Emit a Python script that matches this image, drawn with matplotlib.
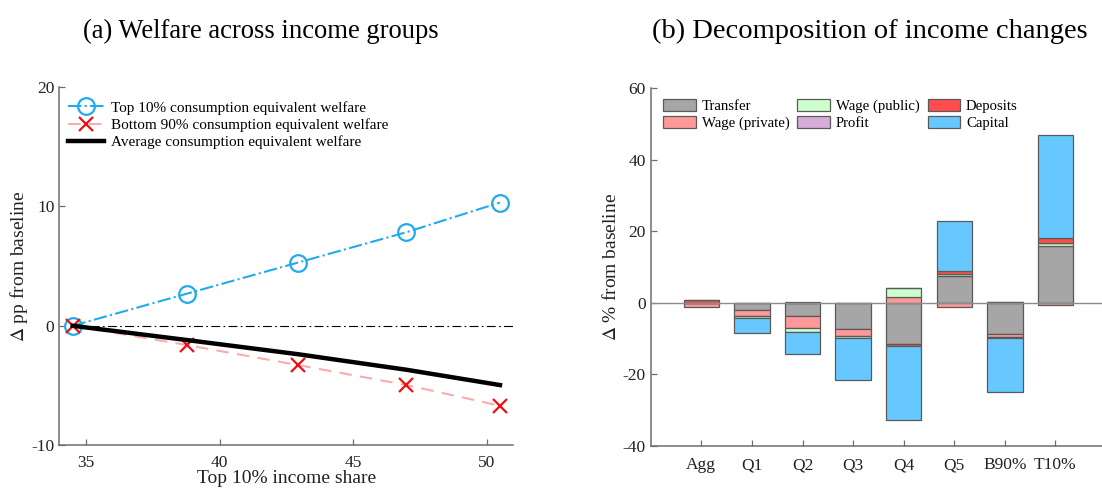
import numpy as np
import matplotlib
matplotlib.use("Agg")
import matplotlib.pyplot as plt

plt.rcParams['font.family'] = ['Liberation Serif', 'DejaVu Serif']
plt.rcParams['mathtext.fontset'] = 'stix'
plt.rcParams['axes.unicode_minus'] = False

# ---- panel (a) data ----
top_share = [34.5, 38.8, 42.94, 47.0, 50.5]
welfare_top10 = [0.0, 2.70, 5.29, 7.83, 10.31]
welfare_bottom90 = [0.0, -1.62, -3.29, -4.96, -6.69]
welfare_avg = [0.0, -1.2, -2.38, -3.68, -4.96]

# ---- panel (b) data ----
groups = ['Agg', 'Q1', 'Q2', 'Q3', 'Q4', 'Q5', 'B90%', 'T10%']
transfer = [0.0, -1.95, -3.72, -7.35, -11.63, 7.53, -8.65, 15.9]
wage_private = [-1.1, -1.77, -3.26, -1.86, 1.49, -1.21, -1.02, -0.75]
wage_public = [0.0, -0.47, -1.21, -0.56, 2.7, 0.47, 0.25, 0.75]
profit = [0.0, 0.0, 0.0, 0.0, 0.0, 0.0, 0.0, 0.0]
deposits = [0.8, -0.1, 0.2, -0.1, -0.46, 0.74, -0.28, 1.49]
capital = [0.0, -4.18, -6.23, -11.72, -20.75, 14.05, -14.98, 28.74]

components = [transfer, wage_private, wage_public, profit, deposits, capital]
comp_names = ['Transfer', 'Wage (private)', 'Wage (public)', 'Profit', 'Deposits', 'Capital']
comp_colors = ['#a6a6a6', '#ff9999', '#ccffcc', '#d8acd8', '#ff4d4d', '#66c8ff']

spine_col = '#6e6e6e'

fig = plt.figure(figsize=(11.02, 4.88), dpi=100)

def style_axes(ax):
    for s in ['top', 'right']:
        ax.spines[s].set_visible(False)
    for s in ['left', 'bottom']:
        ax.spines[s].set_color(spine_col)
        ax.spines[s].set_linewidth(1.1)
    ax.tick_params(direction='in', length=4, width=0.9, color=spine_col,
                   labelsize=12.5, labelcolor='#222222')

# ---------------- (a) ----------------
ax1 = fig.add_axes([0.0538, 0.0875, 0.412, 0.7348])
style_axes(ax1)
ax1.set_xlim(34, 51)
ax1.set_ylim(-10, 20)
ax1.set_xticks([35, 40, 45, 50])
ax1.set_yticks([-10, 0, 10, 20])
ax1.tick_params(axis='x', pad=7)

ax1.axhline(0, xmin=(top_share[0] - 34) / 17, color='black', lw=0.8, ls=(0, (8, 3, 1.5, 3)))
ax1.plot(top_share, welfare_top10, color='#22aaee', ls='-.', lw=1.5,
         marker='o', ms=12, mfc='none', mew=1.6,
         label='Top 10% consumption equivalent welfare')
ax1.plot(top_share, welfare_bottom90, color='#ffaaaa', ls=(0, (6, 4)), lw=1.5,
         marker='x', ms=9.5, mec='#ee1111', mew=1.6,
         label='Bottom 90% consumption equivalent welfare')
ax1.plot(top_share, welfare_avg, color='black', lw=3.2,
         label='Average consumption equivalent welfare')

ax1.set_xlabel('Top 10% income share', fontsize=14, labelpad=-1, color='#222222')
ax1.set_ylabel(r'$\Delta$ pp from baseline', fontsize=14, labelpad=1, color='#222222')
ax1.legend(loc='upper left', bbox_to_anchor=(0.02, 0.96), frameon=False,
           fontsize=11, handlelength=2.3, handletextpad=0.5, labelspacing=0.22,
           borderpad=0, borderaxespad=0)

# ---------------- (b) ----------------
ax2 = fig.add_axes([0.5905, 0.0861, 0.4095, 0.7336])
style_axes(ax2)
pos = np.arange(1, len(groups) + 1)
ax2.set_xlim(0, 8.92)
ax2.set_ylim(-40, 60)
ax2.set_yticks([-40, -20, 0, 20, 40, 60])
ax2.set_xticks(pos)
ax2.set_xticklabels(groups)
ax2.tick_params(axis='x', pad=8)

bottom_pos = np.zeros(len(groups))
bottom_neg = np.zeros(len(groups))
for vals, name, col in zip(components, comp_names, comp_colors):
    v = np.array(vals)
    base = np.where(v >= 0, bottom_pos, bottom_neg)
    ax2.bar(pos, v, width=0.7, bottom=base, color=col, edgecolor='#5a5a5a',
            linewidth=0.9, label=name, zorder=2)
    bottom_pos = bottom_pos + np.where(v >= 0, v, 0)
    bottom_neg = bottom_neg + np.where(v < 0, v, 0)

ax2.axhline(0, color='#8c8c8c', lw=1.0, zorder=3)
ax2.set_ylabel(r'$\Delta$ % from baseline', fontsize=14, labelpad=2, color='#222222')

ax2.legend(ncol=3, loc='upper left', bbox_to_anchor=(0.028, 0.97), frameon=False,
           fontsize=10.6, handlelength=2.2, handleheight=0.9,
           handletextpad=0.4, columnspacing=0.55, labelspacing=0.2,
           borderpad=0, borderaxespad=0)

fig.text(0.237, 0.935, '(a) Welfare across income groups', ha='center', va='center',
         fontsize=19.2)
fig.text(0.789, 0.935, '(b) Decomposition of income changes', ha='center', va='center',
         fontsize=20.5)

fig.savefig('out.png', dpi=100)
